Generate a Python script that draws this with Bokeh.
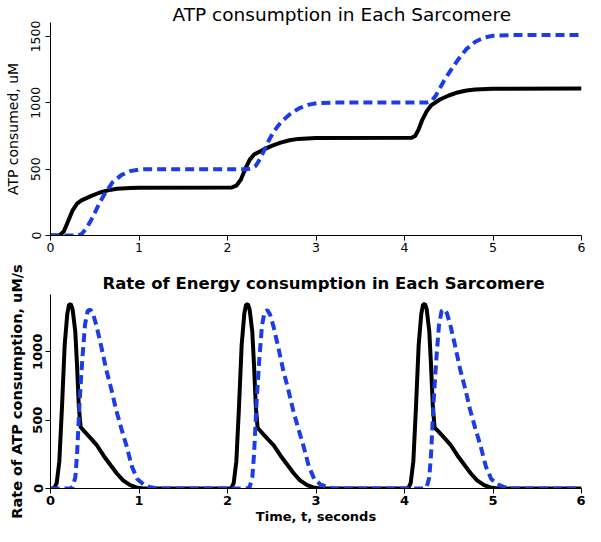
from bokeh.plotting import figure
from bokeh.layouts import column
from bokeh.models import Range1d, FixedTicker
from bokeh.embed import file_html
from bokeh.resources import INLINE

# ---- Top panel: cumulative ATP consumed (uM) ----
cum_black_t = [0.0, 0.10, 0.15, 0.20, 0.25, 0.30, 0.35, 0.45, 0.55, 0.65, 0.75, 0.90, 1.00, 2.05,
               2.10, 2.15, 2.20, 2.25, 2.30, 2.40, 2.50, 2.60, 2.70, 2.80, 3.00, 4.08,
               4.12, 4.16, 4.20, 4.25, 4.30, 4.40, 4.50, 4.60, 4.70, 4.80, 5.00, 6.00]
cum_black_v = [0, 0, 30, 110, 190, 240, 265, 295, 322, 340, 352, 358, 360, 362,
               375, 420, 500, 570, 610, 645, 675, 700, 718, 728, 734, 736,
               750, 800, 870, 935, 980, 1025, 1055, 1078, 1092, 1100, 1106, 1108]

cum_blue_t = [0.0, 0.30, 0.35, 0.40, 0.45, 0.50, 0.55, 0.60, 0.65, 0.70, 0.80, 0.90, 1.00, 1.10, 2.22,
              2.27, 2.32, 2.37, 2.42, 2.47, 2.52, 2.57, 2.62, 2.72, 2.82, 2.92, 3.02, 3.20, 4.25,
              4.30, 4.35, 4.40, 4.45, 4.50, 4.55, 4.60, 4.70, 4.80, 4.90, 5.00, 5.20, 6.00]
cum_blue_v = [0, 0, 10, 50, 105, 170, 240, 300, 350, 400, 455, 485, 497, 500, 500,
              505, 525, 580, 650, 720, 780, 825, 865, 922, 962, 986, 998, 1002, 1002,
              1010, 1050, 1110, 1170, 1222, 1272, 1320, 1405, 1460, 1492, 1505, 1510, 1510]

# ---- Bottom panel: rate of ATP consumption (uM/s) ----
rate_black_t = [0.00, 0.04, 0.07, 0.10, 0.13, 0.16, 0.19, 0.21, 0.23, 0.25, 0.28, 0.30, 0.32, 0.34,
                0.38, 0.45, 0.52, 0.60, 0.68, 0.75, 0.82, 0.90, 0.97, 1.05,
                2.04, 2.07, 2.10, 2.13, 2.16, 2.19, 2.21, 2.23, 2.25, 2.28, 2.30, 2.32, 2.34,
                2.38, 2.45, 2.52, 2.60, 2.68, 2.75, 2.82, 2.90, 2.97, 3.05,
                4.04, 4.07, 4.10, 4.13, 4.16, 4.19, 4.21, 4.23, 4.25, 4.28, 4.30, 4.32, 4.34,
                4.38, 4.45, 4.52, 4.60, 4.68, 4.75, 4.82, 4.90, 4.97, 5.05, 6.00]
rate_black_v = [0, 0, 40, 200, 600, 1050, 1280, 1345, 1350, 1310, 1150, 900, 600, 450,
                420, 370, 320, 240, 170, 110, 60, 25, 8, 0,
                0, 40, 200, 600, 1050, 1280, 1345, 1350, 1310, 1150, 900, 600, 445,
                415, 365, 318, 240, 170, 110, 60, 25, 8, 0,
                0, 40, 200, 600, 1050, 1280, 1345, 1352, 1315, 1150, 900, 600, 445,
                420, 370, 320, 240, 170, 110, 60, 25, 8, 0, 0]

rate_blue_t = [0.00, 0.22, 0.25, 0.28, 0.30, 0.33, 0.36, 0.39, 0.42, 0.45, 0.48, 0.52, 0.57, 0.63,
               0.69, 0.74, 0.80, 0.86, 0.92, 0.98, 1.05, 1.12, 1.20,
               2.22, 2.25, 2.28, 2.30, 2.33, 2.36, 2.39, 2.42, 2.45, 2.48, 2.52, 2.57, 2.63,
               2.69, 2.74, 2.80, 2.86, 2.92, 2.98, 3.05, 3.12, 3.20,
               4.22, 4.25, 4.28, 4.30, 4.33, 4.36, 4.39, 4.42, 4.45, 4.48, 4.52, 4.57, 4.63,
               4.69, 4.74, 4.80, 4.86, 4.92, 4.98, 5.05, 5.12, 5.20, 6.00]
rate_blue_v = [0, 0, 10, 80, 250, 650, 950, 1200, 1300, 1310, 1280, 1190, 1050, 870,
               720, 580, 440, 310, 160, 70, 30, 12, 0,
               0, 10, 80, 250, 650, 950, 1195, 1295, 1305, 1275, 1185, 1045, 865,
               715, 578, 438, 308, 160, 70, 30, 12, 0,
               0, 10, 80, 250, 650, 950, 1200, 1300, 1312, 1282, 1190, 1050, 870,
               720, 580, 440, 310, 160, 70, 30, 12, 0, 0]

x_ticks = [0, 1, 2, 3, 4, 5, 6]
top_y_ticks = [0, 500, 1000, 1500]
bot_y_ticks = [0, 500, 1000]

BLUE = "#1c3de6"
FONT = "DejaVu Sans"


def style(p, bold, tick_size):
    p.outline_line_color = None
    p.xgrid.grid_line_color = None
    p.ygrid.grid_line_color = None
    p.min_border_left = 50
    p.min_border_right = 4
    for ax in (p.xaxis[0], p.yaxis[0]):
        ax.axis_line_color = "black"
        ax.axis_line_width = 1
        ax.major_tick_line_color = "black"
        ax.major_tick_out = 5
        ax.major_tick_in = 0
        ax.minor_tick_line_color = None
        ax.major_label_text_font = FONT
        ax.major_label_text_font_size = tick_size
        ax.major_label_text_color = "black"
        ax.major_label_text_font_style = "bold" if bold else "normal"
        ax.axis_label_text_font = FONT
        ax.axis_label_text_color = "black"
        ax.axis_label_text_font_style = "bold" if bold else "normal"
    p.xaxis.ticker = FixedTicker(ticks=x_ticks)
    p.yaxis.major_label_orientation = "vertical"
    p.yaxis.axis_label_text_font_size = "14px"
    p.xaxis.major_label_standoff = 2
    p.title.text_font = FONT
    p.title.text_color = "black"
    p.title.align = "left"


p1 = figure(width=585, height=260, output_backend="svg", toolbar_location=None,
            x_range=Range1d(0, 6), y_range=Range1d(0, 1605),
            title="ATP consumption in Each Sarcomere")
style(p1, False, "12.5px")
p1.min_border_top = 22
p1.min_border_bottom = 25
p1.title.text_font_size = "18.5px"
p1.title.text_font_style = "normal"
p1.title.offset = 122
p1.title.standoff = -5
p1.yaxis.ticker = FixedTicker(ticks=top_y_ticks)
p1.yaxis.major_label_standoff = 5
p1.yaxis.axis_label_standoff = 8
p1.yaxis.axis_label = "ATP consumed, uM"
p1.line(cum_black_t, cum_black_v, line_color="black", line_width=4)
p1.line(cum_blue_t, cum_blue_v, line_color=BLUE, line_width=4, line_dash="9 5")

p2 = figure(width=585, height=266, output_backend="svg", toolbar_location=None,
            x_range=Range1d(0, 6), y_range=Range1d(0, 1420),
            title="Rate of Energy consumption in Each Sarcomere")
style(p2, True, "13px")
p2.min_border_top = 34
p2.min_border_bottom = 38
p2.title.text_font_size = "16.5px"
p2.title.text_font_style = "bold"
p2.title.offset = 52
p2.title.standoff = 3
p2.yaxis.ticker = FixedTicker(ticks=bot_y_ticks)
p2.yaxis.major_label_standoff = 3
p2.yaxis.axis_label_standoff = 6
p2.yaxis.axis_label = "Rate of ATP consumption, uM/s"
p2.yaxis.axis_label_text_font_size = "14.5px"
p2.xaxis.axis_label = "Time, t, seconds"
p2.xaxis.axis_label_text_font_size = "13px"
p2.xaxis.axis_label_standoff = 1
p2.line(rate_black_t, rate_black_v, line_color="black", line_width=4)
p2.line(rate_blue_t, rate_blue_v, line_color=BLUE, line_width=4, line_dash="9 5")

layout = column(p1, p2)
open("out.html", "w").write(file_html(layout, INLINE))
